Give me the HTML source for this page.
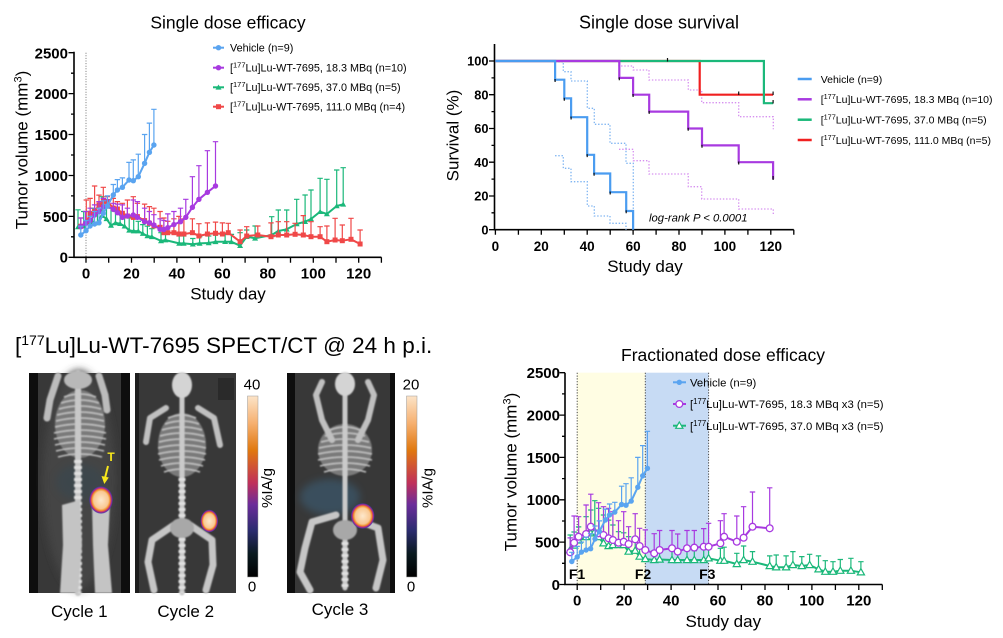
<!DOCTYPE html>
<html><head><meta charset="utf-8"><style>
html,body{margin:0;padding:0;background:#fff}
svg{display:block}
text{font-family:"Liberation Sans",Arial,sans-serif;fill:#000}
.b{font-weight:bold}
.ax{stroke:#000;stroke-width:1.6;fill:none}
.tk{stroke:#000;stroke-width:1.3;fill:none}
</style></head><body>
<svg width="1003" height="638" viewBox="0 0 1003 638" xmlns="http://www.w3.org/2000/svg">
<defs>
<marker id="mB" markerWidth="8" markerHeight="8" refX="4" refY="4" markerUnits="userSpaceOnUse" overflow="visible"><circle cx="4" cy="4" r="2.7" fill="#5aa4f0"/></marker>
<marker id="mP" markerWidth="8" markerHeight="8" refX="4" refY="4" markerUnits="userSpaceOnUse" overflow="visible"><circle cx="4" cy="4" r="2.7" fill="#a83ae0"/></marker>
<marker id="mG" markerWidth="8" markerHeight="8" refX="4" refY="4" markerUnits="userSpaceOnUse" overflow="visible"><path d="M4 1.2L7 6.3H1Z" fill="#1bb87a"/></marker>
<marker id="mR" markerWidth="8" markerHeight="8" refX="4" refY="4" markerUnits="userSpaceOnUse" overflow="visible"><rect x="1.5" y="1.5" width="5" height="5" fill="#f04848"/></marker>
<marker id="mPo" markerWidth="10" markerHeight="10" refX="5" refY="5" markerUnits="userSpaceOnUse" overflow="visible"><circle cx="5" cy="5" r="3.4" fill="#fff" stroke="#a83ae0" stroke-width="1.3"/></marker>
<marker id="mGo" markerWidth="10" markerHeight="10" refX="5" refY="5" markerUnits="userSpaceOnUse" overflow="visible"><path d="M5 1.3L8.6 7.6H1.4Z" fill="#fff" stroke="#1bb87a" stroke-width="1.2"/></marker>
<radialGradient id="tg" cx="50%" cy="50%" r="50%">
<stop offset="0" stop-color="#fde8cc"/><stop offset="0.62" stop-color="#f9c892"/><stop offset="0.76" stop-color="#f0902a"/><stop offset="0.85" stop-color="#c83070"/><stop offset="0.93" stop-color="#6030a8"/><stop offset="1" stop-color="#3040a0" stop-opacity="0"/>
</radialGradient>
<linearGradient id="cb" x1="0" y1="0" x2="0" y2="1">
<stop offset="0" stop-color="#fce4c8"/><stop offset="0.15" stop-color="#f6b070"/><stop offset="0.3" stop-color="#e0780f"/><stop offset="0.48" stop-color="#c0305a"/><stop offset="0.6" stop-color="#6b2c9a"/><stop offset="0.74" stop-color="#2c2c70"/><stop offset="0.87" stop-color="#0a1a20"/><stop offset="1" stop-color="#000"/>
</linearGradient>
<filter id="bl" x="-10%" y="-10%" width="120%" height="120%"><feGaussianBlur stdDeviation="0.7"/></filter>
<filter id="bl3" x="-50%" y="-50%" width="200%" height="200%"><feGaussianBlur stdDeviation="4"/></filter>
</defs>

<!-- ================= Chart A: Single dose efficacy ================= -->
<text x="228" y="28.3" font-size="17.5" text-anchor="middle">Single dose efficacy</text>
<line x1="86" y1="52.7" x2="86" y2="257.3" stroke="#777" stroke-width="1" stroke-dasharray="1 1.6"/>
<path class="ax" d="M74 51.7V257.3H381.4"/>
<path class="tk" d="M68.5 257.3H74M71 236.8H74M68.5 216.4H74M71 195.9H74M68.5 175.5H74M71 155H74M68.5 134.5H74M71 114.1H74M68.5 93.6H74M71 73.2H74M68.5 52.7H74"/>
<path class="tk" d="M86 257.3v5.5M108.7 257.3v5.5M131.5 257.3v5.5M154.2 257.3v5.5M176.9 257.3v5.5M199.6 257.3v5.5M222.4 257.3v5.5M245.1 257.3v5.5M267.8 257.3v5.5M290.5 257.3v5.5M313.3 257.3v5.5M336 257.3v5.5M358.7 257.3v5.5M381.4 257.3v5.5"/>
<g class="b" font-size="15" text-anchor="end">
<text x="68" y="262.7">0</text><text x="68" y="221.8">500</text><text x="68" y="180.9">1000</text><text x="68" y="139.9">1500</text><text x="68" y="99">2000</text><text x="68" y="58.3">2500</text>
</g>
<g class="b" font-size="15" text-anchor="middle">
<text x="86" y="278.3">0</text><text x="131.5" y="278.3">20</text><text x="176.9" y="278.3">40</text><text x="222.4" y="278.3">60</text><text x="267.8" y="278.3">80</text><text x="313.3" y="278.3">100</text><text x="358.7" y="278.3">120</text>
</g>
<text x="228" y="299.5" font-size="17" text-anchor="middle">Study day</text>
<text transform="translate(27.5,150) rotate(-90)" font-size="17" text-anchor="middle">Tumor volume (mm<tspan font-size="11" dy="-6">3</tspan><tspan dy="6">)</tspan></text>

<!-- green -->
<g stroke="#1bb87a" fill="none">
<path stroke-width="1.2" d="M78 227V209.8m-2.7 0h5.4M83.7 226.2V211.5m-2.7 0h5.4M88.3 222.9V211.5m-2.7 0h5.4M92.8 222.1V208.2m-2.7 0h5.4M97.4 222.9V211.5m-2.7 0h5.4M101.9 215.6V196.7m-2.7 0h5.4M106.5 218.8V204.9m-2.7 0h5.4M111 225.4V208.2m-2.7 0h5.4M115.5 222.9V211.5m-2.7 0h5.4M120.1 223.7V213.1m-2.7 0h5.4M124.6 226.2V216.4m-2.7 0h5.4M129.2 230.3V218m-2.7 0h5.4M133.7 231.1V218.8m-2.7 0h5.4M138.3 231.1V221.3m-2.7 0h5.4M142.8 233.6V224.6m-2.7 0h5.4M147.4 236V226.2m-2.7 0h5.4M151.9 236.8V228.7m-2.7 0h5.4M161 240.9V232.7m-2.7 0h5.4M165.5 240.1V232.7m-2.7 0h5.4M179.2 243.4V236m-2.7 0h5.4M183.7 243.4V236m-2.7 0h5.4M192.8 244.2V238.5m-2.7 0h5.4M199.6 243.4V236.8m-2.7 0h5.4M208.7 243V236m-2.7 0h5.4M215.5 241.8V235.2m-2.7 0h5.4M225.1 241.7V234.4m-2.7 0h5.4M231.4 241.8V234.4m-2.7 0h5.4M240.1 245.7V232.7m-2.7 0h5.4M246.7 236.7V230m-2.7 0h5.4M255.1 238.3V226m-2.7 0h5.4M271.7 235V216.7m-2.7 0h5.4M278.3 231V210m-2.7 0h5.4M286.7 229.3V210m-2.7 0h5.4M296.7 224V199.3m-2.7 0h5.4M305.1 221.7V195m-2.7 0h5.4M311 219V190m-2.7 0h5.4M320.1 211.7V178.3m-2.7 0h5.4M326.9 214V179.3m-2.7 0h5.4M336.7 206V170m-2.7 0h5.4M343.2 204.3V167.7m-2.7 0h5.4"/>
<polyline stroke-width="2" stroke-linejoin="round" marker-start="url(#mG)" marker-mid="url(#mG)" marker-end="url(#mG)" points="78,227 83.7,226.2 88.3,222.9 92.8,222.1 97.4,222.9 101.9,215.6 106.5,218.8 111,225.4 115.5,222.9 120.1,223.7 124.6,226.2 129.2,230.3 133.7,231.1 138.3,231.1 142.8,233.6 147.4,236 151.9,236.8 161,240.9 165.5,240.1 179.2,243.4 183.7,243.4 192.8,244.2 199.6,243.4 208.7,243 215.5,241.8 225.1,241.7 231.4,241.8 240.1,245.7 246.7,236.7 255.1,238.3 271.7,235 278.3,231 286.7,229.3 296.7,224 305.1,221.7 311,219 320.1,211.7 326.9,214 336.7,206 343.2,204.3"/>
</g>
<!-- red -->
<g stroke="#f04848" fill="none">
<path stroke-width="1.2" d="M80.8 226.2V218m-2.7 0h5.4M86.3 222.9V200m-2.7 0h5.4M90.1 213.3V198.4m-2.7 0h5.4M94.6 211.5V186m-2.7 0h5.4M99 204.8V195.1m-2.7 0h5.4M103.3 201.4V187.3m-2.7 0h5.4M107.4 201.4V196.7m-2.7 0h5.4M113.3 208.1V198.4m-2.7 0h5.4M117.4 209V201.6m-2.7 0h5.4M122.4 213.3V203.3m-2.7 0h5.4M127.4 216V200m-2.7 0h5.4M133.3 217.4V196.7m-2.7 0h5.4M137.4 216.6V203.3m-2.7 0h5.4M144.6 220.6V204.1m-2.7 0h5.4M149.4 223.3V206.6m-2.7 0h5.4M153.9 225.9V208.2m-2.7 0h5.4M160.1 227.3V211.5m-2.7 0h5.4M163.9 232.7V218m-2.7 0h5.4M167.8 232.7V221.3m-2.7 0h5.4M173.9 232.7V218.8m-2.7 0h5.4M178.9 234V216.4m-2.7 0h5.4M183.9 234V218.8m-2.7 0h5.4M192.4 232.7V218.8m-2.7 0h5.4M198.9 236V223.7m-2.7 0h5.4M207.4 234V222.9m-2.7 0h5.4M215.5 233.3V222.1m-2.7 0h5.4M222.4 234V222.9m-2.7 0h5.4M228.3 232.7V223.3m-2.7 0h5.4M240.1 241.7V230m-2.7 0h5.4M246.7 236V226.7m-2.7 0h5.4M257.8 235V226m-2.7 0h5.4M271 236.7V222.9m-2.7 0h5.4M278.3 235V221.7m-2.7 0h5.4M286.7 235V221.7m-2.7 0h5.4M295.1 234.3V223.3m-2.7 0h5.4M303.3 235V215.6m-2.7 0h5.4M311 236.7V221.7m-2.7 0h5.4M320.1 236.7V226.7m-2.7 0h5.4M326.9 241.7V226m-2.7 0h5.4M335.1 240V218.3m-2.7 0h5.4M342.3 240.7V225m-2.7 0h5.4M351 239.3V218.3m-2.7 0h5.4M360.1 244V230m-2.7 0h5.4"/>
<polyline stroke-width="2" stroke-linejoin="round" marker-start="url(#mR)" marker-mid="url(#mR)" marker-end="url(#mR)" points="80.8,226.2 86.3,222.9 90.1,213.3 94.6,211.5 99,204.8 103.3,201.4 107.4,201.4 113.3,208.1 117.4,209 122.4,213.3 127.4,216 133.3,217.4 137.4,216.6 144.6,220.6 149.4,223.3 153.9,225.9 160.1,227.3 163.9,232.7 167.8,232.7 173.9,232.7 178.9,234 183.9,234 192.4,232.7 198.9,236 207.4,234 215.5,233.3 222.4,234 228.3,232.7 240.1,241.7 246.7,236 257.8,235 271,236.7 278.3,235 286.7,235 295.1,234.3 303.3,235 311,236.7 320.1,236.7 326.9,241.7 335.1,240 342.3,240.7 351,239.3 360.1,244"/>
</g>
<!-- purple -->
<g stroke="#a83ae0" fill="none">
<path stroke-width="1.2" d="M80.8 226.7V218m-2.7 0h5.4M85.5 223.3V211.5m-2.7 0h5.4M90.1 220.6V208.2m-2.7 0h5.4M94.6 215V204.9m-2.7 0h5.4M99 211.7V201.6m-2.7 0h5.4M103.3 206.7V198.4m-2.7 0h5.4M107.4 206V200m-2.7 0h5.4M113.3 209.3V203.3m-2.7 0h5.4M117.4 212.7V204.1m-2.7 0h5.4M122.4 217.4V204.9m-2.7 0h5.4M127.4 216V208.2m-2.7 0h5.4M133.3 215V200m-2.7 0h5.4M137.4 217.4V201.6m-2.7 0h5.4M144.6 221.7V208.2m-2.7 0h5.4M149.4 222.7V211.5m-2.7 0h5.4M153.9 225V214.7m-2.7 0h5.4M160.1 229.3V218.8m-2.7 0h5.4M163.9 229.5V220.5m-2.7 0h5.4M167.8 227.7V213.9m-2.7 0h5.4M173.9 224.6V211.5m-2.7 0h5.4M180.5 221.7V208.2m-2.7 0h5.4M185.8 217.3V199.3m-2.7 0h5.4M192.4 207.3V176.7m-2.7 0h5.4M198.9 199.3V165.7m-2.7 0h5.4M207.4 192.3V150.7m-2.7 0h5.4M215.5 186V141.7m-2.7 0h5.4"/>
<polyline stroke-width="2" stroke-linejoin="round" marker-start="url(#mP)" marker-mid="url(#mP)" marker-end="url(#mP)" points="80.8,226.7 85.5,223.3 90.1,220.6 94.6,215 99,211.7 103.3,206.7 107.4,206 113.3,209.3 117.4,212.7 122.4,217.4 127.4,216 133.3,215 137.4,217.4 144.6,221.7 149.4,222.7 153.9,225 160.1,229.3 163.9,229.5 167.8,227.7 173.9,224.6 180.5,221.7 185.8,217.3 192.4,207.3 198.9,199.3 207.4,192.3 215.5,186"/>
</g>
<!-- blue -->
<g stroke="#5aa4f0" fill="none">
<path stroke-width="1.2" d="M80.8 235V226.2m-2.7 0h5.4M86 230.7V220.5m-2.7 0h5.4M90.1 226V216.4m-2.7 0h5.4M94.6 224V211.5m-2.7 0h5.4M99 222.7V208.2m-2.7 0h5.4M103.3 213.3V200.8m-2.7 0h5.4M107.4 206V195.9m-2.7 0h5.4M113.3 195V184.5m-2.7 0h5.4M117.4 190V179.6m-2.7 0h5.4M122.4 187.3V177.9m-2.7 0h5.4M129 180V162.4m-2.7 0h5.4M133.3 180.7V159.9m-2.7 0h5.4M138.3 176.7V154.2m-2.7 0h5.4M144.6 163.3V134.5m-2.7 0h5.4M149.4 152.3V123.1m-2.7 0h5.4M153.9 145V109.3m-2.7 0h5.4"/>
<polyline stroke-width="2" stroke-linejoin="round" marker-start="url(#mB)" marker-mid="url(#mB)" marker-end="url(#mB)" points="80.8,235 86,230.7 90.1,226 94.6,224 99,222.7 103.3,213.3 107.4,206 113.3,195 117.4,190 122.4,187.3 129,180 133.3,180.7 138.3,176.7 144.6,163.3 149.4,152.3 153.9,145"/>
</g>
<!-- legend A -->
<g stroke-width="2" fill="none">
<path d="M213 47.7H224" stroke="#5aa4f0"/><circle cx="218.5" cy="47.7" r="2.7" fill="#5aa4f0" stroke="none"/>
<path d="M213 67.7H224" stroke="#a83ae0"/><circle cx="218.5" cy="67.7" r="2.7" fill="#a83ae0" stroke="none"/>
<path d="M213 87.3H224" stroke="#1bb87a"/><path d="M218.5 84.5L221.5 89.6H215.5Z" fill="#1bb87a" stroke="none"/>
<path d="M213 106.7H224" stroke="#f04848"/><rect x="216" y="104.2" width="5" height="5" fill="#f04848" stroke="none"/>
</g>
<g font-size="10.8">
<text x="230" y="51.5">Vehicle (n=9)</text>
<text x="230" y="71.5">[<tspan font-size="7.5" dy="-4">177</tspan><tspan dy="4">Lu]Lu-WT-7695, 18.3 MBq (n=10)</tspan></text>
<text x="230" y="91.1">[<tspan font-size="7.5" dy="-4">177</tspan><tspan dy="4">Lu]Lu-WT-7695, 37.0 MBq (n=5)</tspan></text>
<text x="230" y="110.5">[<tspan font-size="7.5" dy="-4">177</tspan><tspan dy="4">Lu]Lu-WT-7695, 111.0 MBq (n=4)</tspan></text>
</g>

<!-- ================= Chart B: Single dose survival ================= -->
<text x="659" y="28.3" font-size="18" text-anchor="middle">Single dose survival</text>
<path class="ax" d="M494.5 44V229.7H793.8"/>
<path class="tk" d="M489 229.7h5.5M491.5 212.8h3M489 196h5.5M491.5 179.1h3M489 162.2h5.5M491.5 145.4h3M489 128.5h5.5M491.5 111.6h3M489 94.7h5.5M491.5 77.9h3M489 61h5.5"/>
<path class="tk" d="M495.4 229.7v5M518.4 229.7v5M541.3 229.7v5M564.3 229.7v5M587.2 229.7v5M610.2 229.7v5M633.1 229.7v5M656.1 229.7v5M679 229.7v5M702 229.7v5M724.9 229.7v5M747.9 229.7v5M770.8 229.7v5M793.8 229.7v5"/>
<g class="b" font-size="12.8" text-anchor="end">
<text x="488.5" y="234.4">0</text><text x="488.5" y="200.7">20</text><text x="488.5" y="166.9">40</text><text x="488.5" y="133.2">60</text><text x="488.5" y="99.4">80</text><text x="488.5" y="65.7">100</text>
</g>
<g class="b" font-size="13.5" text-anchor="middle">
<text x="495.4" y="251">0</text><text x="541.3" y="251">20</text><text x="587.2" y="251">40</text><text x="633.1" y="251">60</text><text x="679" y="251">80</text><text x="724.9" y="251">100</text><text x="770.8" y="251">120</text>
</g>
<text x="645" y="272.2" font-size="17" text-anchor="middle">Study day</text>
<text transform="translate(458.5,135.5) rotate(-90)" font-size="17" text-anchor="middle">Survival (%)</text>
<!-- CI dotted -->
<g fill="none" stroke-width="1.3" stroke-dasharray="1.4 1.8">
<path stroke="#7fb5f2" d="M555.1 61.7H563.3V71.7H571V81H587.3V108.3H594.3V124.3H610V143.3H626V163.3H633.3V229.7"/>
<path stroke="#7fb5f2" d="M555.1 155.7H563.3V168.3H571V181.7H587.3V206H594.3V216H610V223.3H626V229.7"/>
<path stroke="#d690f0" d="M619 61.7V66H633.3V70H649V80H688.3V90H701.7V102.7H738.7V116.7H773.3V129.3"/>
<path stroke="#d690f0" d="M619 149.3H633.3V160.7H649V174H688.3V186.7H701.7V199H738.7V209H773.3V215"/>
</g>
<g fill="none" stroke-width="2.2">
<path stroke="#f02020" d="M495.4 61H699.7V94.7H773.1"/>
<path stroke="#1bb87a" d="M495.4 61H763.9V103.2H773.1"/>
<path stroke="#a83ae0" d="M495.4 61H619.3V77.9H633.1V94.7H649.2V111.6H688.2V128.5H702V145.4H738.7V162.2H773.1V179.1"/>
<path stroke="#4a9cf0" d="M495.4 61H555.1V79.7H564.3V98.4H571.1V117.2H587.2V154.8H594.1V173.5H610.2V192.2H626.2V211H633.1V229.7"/>
</g>
<path stroke="#111" stroke-width="1.2" fill="none" d="M555.1 79v3M564.3 97.7v3M571.1 116.5v3M587.2 154.1v3M594.1 172.8v3M610.2 191.5v3M626.2 210.3v3M619.3 77.2v3M633.1 94v3M649.2 110.9v3M688.2 127.8v3M702 144.7v3M738.7 161.5v3M773.1 176v4M667.5 58v3.5M738.7 91.5v3.5M773.1 91.5v3.5M773.1 100v3.5"/>
<text x="649" y="221.5" font-size="11.3" font-style="italic">log-rank P &lt; 0.0001</text>
<g stroke-width="2.5">
<line x1="797.7" y1="79" x2="811.7" y2="79" stroke="#4a9cf0"/>
<line x1="797.7" y1="99.3" x2="811.7" y2="99.3" stroke="#a83ae0"/>
<line x1="797.7" y1="119.7" x2="811.7" y2="119.7" stroke="#1bb87a"/>
<line x1="797.7" y1="140" x2="811.7" y2="140" stroke="#f02020"/>
</g>
<g font-size="10.5">
<text x="820.7" y="82.8">Vehicle (n=9)</text>
<text x="820.7" y="103.1">[<tspan font-size="7.3" dy="-4">177</tspan><tspan dy="4">Lu]Lu-WT-7695, 18.3 MBq (n=10)</tspan></text>
<text x="820.7" y="123.5">[<tspan font-size="7.3" dy="-4">177</tspan><tspan dy="4">Lu]Lu-WT-7695, 37.0 MBq (n=5)</tspan></text>
<text x="820.7" y="143.8">[<tspan font-size="7.3" dy="-4">177</tspan><tspan dy="4">Lu]Lu-WT-7695, 111.0 MBq (n=5)</tspan></text>
</g>

<!-- ================= Chart C: Fractionated ================= -->
<text x="723" y="360.8" font-size="17.5" text-anchor="middle">Fractionated dose efficacy</text>
<rect x="577.2" y="372.7" width="68.1" height="211.8" fill="#fffde3"/>
<rect x="645.3" y="372.7" width="63.3" height="211.8" fill="#c7dbf4"/>
<g stroke="#444" stroke-width="1" stroke-dasharray="1.2 1.6">
<line x1="577.2" y1="372.7" x2="577.2" y2="584.5"/><line x1="645.3" y1="372.7" x2="645.3" y2="584.5"/><line x1="708.6" y1="372.7" x2="708.6" y2="584.5"/>
</g>
<g class="b" font-size="14" text-anchor="middle">
<text x="577" y="579">F1</text><text x="643" y="579">F2</text><text x="707.3" y="579">F3</text>
</g>
<!-- green open -->
<g stroke="#1bb87a" fill="none">
<path stroke-width="1.2" d="M570.2 550V535m-2.7 0h5.4M574.1 545.5V532m-2.7 0h5.4M578.6 540.4V526.9m-2.7 0h5.4M586.1 537.1V516.7m-2.7 0h5.4M590.8 533.3V510m-2.7 0h5.4M594.8 531.6V500.7m-2.7 0h5.4M598.6 537.1V508.3m-2.7 0h5.4M603.5 543.3V515m-2.7 0h5.4M608.6 546V520.1m-2.7 0h5.4M612.9 545V525m-2.7 0h5.4M618.5 545V531.7m-2.7 0h5.4M623.7 545V532.8m-2.7 0h5.4M628.6 551.6V536.7m-2.7 0h5.4M635.2 550.7V539.3m-2.7 0h5.4M639.6 556.6V546.7m-2.7 0h5.4M645.3 559V548.1m-2.7 0h5.4M654.2 560V550.6m-2.7 0h5.4M659.6 559.5V550.6m-2.7 0h5.4M672 560V550.6m-2.7 0h5.4M677.7 560V550.6m-2.7 0h5.4M687 560V550.6m-2.7 0h5.4M694.3 560V550.6m-2.7 0h5.4M703.7 560V548.9m-2.7 0h5.4M708.6 558.3V545.5m-2.7 0h5.4M720.4 560.7V548.3m-2.7 0h5.4M724.1 560.7V547.2m-2.7 0h5.4M736.8 564V553.3m-2.7 0h5.4M743.6 560V546m-2.7 0h5.4M752.5 561.7V551.6m-2.7 0h5.4M769.7 566V555.9m-2.7 0h5.4M776.2 567.3V555m-2.7 0h5.4M786.1 567.3V555.9m-2.7 0h5.4M792.9 565V551.6m-2.7 0h5.4M801.8 566V556.6m-2.7 0h5.4M809.6 565V554.3m-2.7 0h5.4M818.5 569.3V555.9m-2.7 0h5.4M825.3 571.7V560.7m-2.7 0h5.4M833 571.7V561.7m-2.7 0h5.4M840.3 570.7V559.5m-2.7 0h5.4M850.9 570.7V558.3m-2.7 0h5.4M860.9 572.3V561.7m-2.7 0h5.4"/>
<polyline stroke-width="2" stroke-linejoin="round" marker-start="url(#mGo)" marker-mid="url(#mGo)" marker-end="url(#mGo)" points="570.2,550 574.1,545.5 578.6,540.4 586.1,537.1 590.8,533.3 594.8,531.6 598.6,537.1 603.5,543.3 608.6,546 612.9,545 618.5,545 623.7,545 628.6,551.6 635.2,550.7 639.6,556.6 645.3,559 654.2,560 659.6,559.5 672,560 677.7,560 687,560 694.3,560 703.7,560 708.6,558.3 720.4,560.7 724.1,560.7 736.8,564 743.6,560 752.5,561.7 769.7,566 776.2,567.3 786.1,567.3 792.9,565 801.8,566 809.6,565 818.5,569.3 825.3,571.7 833,571.7 840.3,570.7 850.9,570.7 860.9,572.3"/>
</g>
<!-- purple open -->
<g stroke="#a83ae0" fill="none">
<path stroke-width="1.2" d="M570.2 552.3V537.9m-2.7 0h5.4M574.1 542.7V516m-2.7 0h5.4M578.6 536.7V516.7m-2.7 0h5.4M586.1 534V505m-2.7 0h5.4M590.8 526.7V494.2m-2.7 0h5.4M598.6 533.3V502.7m-2.7 0h5.4M603.5 535V506.7m-2.7 0h5.4M608.6 538.3V508.3m-2.7 0h5.4M612.9 540V511.7m-2.7 0h5.4M618.5 542.7V520.7m-2.7 0h5.4M623.7 541.7V511.7m-2.7 0h5.4M628.6 544V526.7m-2.7 0h5.4M635.2 539.3V513.7m-2.7 0h5.4M639.6 546V528.3m-2.7 0h5.4M645.3 550V529.9m-2.7 0h5.4M654.2 553.3V533.7m-2.7 0h5.4M659.6 550V530.5m-2.7 0h5.4M672 548.3V530.5m-2.7 0h5.4M677.7 551.6V534m-2.7 0h5.4M687 548.3V530.5m-2.7 0h5.4M694.3 547.6V530.5m-2.7 0h5.4M703.7 546.7V528.6m-2.7 0h5.4M708.6 546.7V523.3m-2.7 0h5.4M720.4 543.3V520.7m-2.7 0h5.4M724.1 536.7V513.7m-2.7 0h5.4M736.8 541.7V516m-2.7 0h5.4M743.6 537.7V506.7m-2.7 0h5.4M752.5 526.7V492m-2.7 0h5.4M769.7 528.3V487.8m-2.7 0h5.4"/>
<polyline stroke-width="2" stroke-linejoin="round" marker-start="url(#mPo)" marker-mid="url(#mPo)" marker-end="url(#mPo)" points="570.2,552.3 574.1,542.7 578.6,536.7 586.1,534 590.8,526.7 598.6,533.3 603.5,535 608.6,538.3 612.9,540 618.5,542.7 623.7,541.7 628.6,544 635.2,539.3 639.6,546 645.3,550 654.2,553.3 659.6,550 672,548.3 677.7,551.6 687,548.3 694.3,547.6 703.7,546.7 708.6,546.7 720.4,543.3 724.1,536.7 736.8,541.7 743.6,537.7 752.5,526.7 769.7,528.3"/>
</g>
<!-- blue -->
<g stroke="#5aa4f0" fill="none">
<path stroke-width="1.2" d="M571.8 561.5V552.3m-2.7 0h5.4M577.2 557V546.4m-2.7 0h5.4M581.4 552.1V542.1m-2.7 0h5.4M586.1 550V537.1m-2.7 0h5.4M590.6 548.7V533.7m-2.7 0h5.4M595 539V526m-2.7 0h5.4M599.3 531.4V520.9m-2.7 0h5.4M605.4 520V509.1m-2.7 0h5.4M609.6 514.9V504m-2.7 0h5.4M614.8 512.1V502.3m-2.7 0h5.4M621.6 504.5V486.2m-2.7 0h5.4M626 505.2V483.7m-2.7 0h5.4M631.2 501.1V477.8m-2.7 0h5.4M637.8 487.2V457.4m-2.7 0h5.4M642.7 475.8V445.6m-2.7 0h5.4M647.4 468.3V431.3m-2.7 0h5.4"/>
<polyline stroke-width="2" stroke-linejoin="round" marker-start="url(#mB)" marker-mid="url(#mB)" marker-end="url(#mB)" points="571.8,561.5 577.2,557 581.4,552.1 586.1,550 590.6,548.7 595,539 599.3,531.4 605.4,520 609.6,514.9 614.8,512.1 621.6,504.5 626,505.2 631.2,501.1 637.8,487.2 642.7,475.8 647.4,468.3"/>
</g>
<path class="ax" d="M565 372.7V584.5H882.3"/>
<path class="tk" d="M559.5 584.5h5.5M562 563.3h3M559.5 542.1h5.5M562 521h3M559.5 499.8h5.5M562 478.6h3M559.5 457.4h5.5M562 436.3h3M559.5 415.1h5.5M562 393.9h3M559.5 372.7h5.5"/>
<path class="tk" d="M577.2 584.5v5.5M600.7 584.5v5.5M624.1 584.5v5.5M647.6 584.5v5.5M671.1 584.5v5.5M694.6 584.5v5.5M718 584.5v5.5M741.5 584.5v5.5M765 584.5v5.5M788.4 584.5v5.5M811.9 584.5v5.5M835.4 584.5v5.5M858.8 584.5v5.5M882.3 584.5v5.5"/>
<g class="b" font-size="15" text-anchor="end">
<text x="560" y="589.9">0</text><text x="560" y="547.5">500</text><text x="560" y="505.2">1000</text><text x="560" y="462.8">1500</text><text x="560" y="420.5">2000</text><text x="560" y="378.1">2500</text>
</g>
<g class="b" font-size="15" text-anchor="middle">
<text x="577.2" y="605.7">0</text><text x="624.1" y="605.7">20</text><text x="671.1" y="605.7">40</text><text x="718" y="605.7">60</text><text x="765" y="605.7">80</text><text x="811.9" y="605.7">100</text><text x="858.8" y="605.7">120</text>
</g>
<text x="723.3" y="627" font-size="17" text-anchor="middle">Study day</text>
<text transform="translate(516.5,472) rotate(-90)" font-size="17" text-anchor="middle">Tumor volume (mm<tspan font-size="11" dy="-6">3</tspan><tspan dy="6">)</tspan></text>
<!-- legend C -->
<g stroke-width="2" fill="none">
<path d="M673 382.3H686" stroke="#5aa4f0"/><circle cx="679.3" cy="382.3" r="2.7" fill="#5aa4f0" stroke="none"/>
<path d="M673 404H686" stroke="#a83ae0"/><circle cx="679.3" cy="404" r="3.4" fill="#fff" stroke="#a83ae0" stroke-width="1.3"/>
<path d="M673 425.7H686" stroke="#1bb87a"/><path d="M679.3 422L682.9 428.3H675.7Z" fill="#fff" stroke="#1bb87a" stroke-width="1.2"/>
</g>
<g font-size="11.3">
<text x="690" y="386.5">Vehicle (n=9)</text>
<text x="690" y="408.2">[<tspan font-size="7.8" dy="-4">177</tspan><tspan dy="4">Lu]Lu-WT-7695, 18.3 MBq x3 (n=5)</tspan></text>
<text x="690" y="430">[<tspan font-size="7.8" dy="-4">177</tspan><tspan dy="4">Lu]Lu-WT-7695, 37.0 MBq x3 (n=5)</tspan></text>
</g>

<!-- ================= SPECT/CT images ================= -->
<text x="15" y="352.8" font-size="22.5">[<tspan font-size="14" dy="-8">177</tspan><tspan dy="8">Lu]Lu-WT-7695 SPECT/CT @ 24 h p.i.</tspan></text>

<!-- Panel 1 -->
<rect x="29" y="373" width="101" height="220" fill="#0e0e0e"/>
<rect x="38" y="373" width="83" height="220" fill="#383838"/>
<ellipse cx="79" cy="480" rx="36" ry="110" fill="#444" filter="url(#bl3)"/>
<ellipse cx="80" cy="482" rx="24" ry="18" fill="#2e4a58" opacity="0.35" filter="url(#bl3)"/>
<g filter="url(#bl)">
<ellipse cx="80" cy="424" rx="25" ry="34" fill="#7a7a7a"/>
<path fill="none" stroke="#c4c4c4" stroke-width="1.6" d="M64 397Q80 391 96 397M61 403Q80 397 99 403M59 409Q80 403 101 409M57 415Q80 409 103 415M56 421Q80 415 104 421M55 427Q80 421 105 427M54 433Q80 427 106 433M54 439Q80 433 106 439M55 445Q80 439 105 445M56 451Q80 445 104 451M58 457Q80 451 102 457"/>
<path fill="none" stroke="#c8c8c8" stroke-width="6" stroke-linecap="round" d="M78 373V593"/>
<path fill="none" stroke="#e0e0e0" stroke-width="8" stroke-dasharray="3 3" d="M78 460V593"/>
<path fill="none" stroke="#bcbcbc" stroke-width="7" stroke-linecap="round" d="M58 376L50 400L47 418M99 376L105 395L107 410"/>
<path fill="#c4c4c4" d="M62 505L80 500L82 545L78 593L60 593L63 545Z"/>
<path fill="#c4c4c4" d="M92 505L110 503L108 545L112 593L95 593L93 545Z"/>
<ellipse cx="78" cy="380" rx="14" ry="9" fill="#b8b8b8"/>
</g>
<ellipse cx="101" cy="500" rx="12" ry="14" fill="url(#tg)"/>
<text x="111" y="461" font-size="12" class="b" text-anchor="middle" style="fill:#f8e81c">T</text>
<path d="M108 466L105 478" stroke="#f8e81c" stroke-width="2"/>
<path d="M101.5 476L104.3 484L108.8 477.5Z" fill="#f8e81c"/>

<!-- Panel 2 -->
<rect x="135" y="373" width="101" height="220" fill="#383838"/>
<rect x="135" y="373" width="4" height="220" fill="#1e1e1e"/>
<rect x="218" y="378" width="16" height="22" fill="#2a2a2a"/>
<g filter="url(#bl)">
<ellipse cx="182" cy="445" rx="24" ry="32" fill="#7a7a7a"/>
<path fill="none" stroke="#c4c4c4" stroke-width="1.6" d="M168 418Q182 412 196 418M165 424Q182 418 199 424M162 430Q182 424 202 430M160 436Q182 430 204 436M159 442Q182 436 205 442M158 448Q182 442 206 448M158 454Q182 448 206 454M159 460Q182 454 205 460M161 466Q182 460 203 466M164 472Q182 466 200 472"/>
<path fill="none" stroke="#cacaca" stroke-width="5" stroke-linecap="round" d="M182 380V593"/>
<path fill="none" stroke="#e0e0e0" stroke-width="7" stroke-dasharray="3 3" d="M182 478V593"/>
<ellipse cx="182" cy="385" rx="10" ry="13" fill="#d4d4d4"/>
<path fill="none" stroke="#c0c0c0" stroke-width="6" stroke-linecap="round" stroke-linejoin="round" d="M166 408L150 418L146 442M198 408L214 418L220 445"/>
<path fill="none" stroke="#c6c6c6" stroke-width="7" stroke-linecap="round" stroke-linejoin="round" d="M174 525L152 540L148 562L154 590M190 525L212 540L213 565L206 590"/>
<ellipse cx="182" cy="528" rx="12" ry="10" fill="#a8a8a8"/>
</g>
<ellipse cx="209.3" cy="521" rx="9" ry="11.5" fill="url(#tg)"/>

<!-- Panel 3 -->
<rect x="287" y="373" width="108" height="220" fill="#0e0e0e"/>
<rect x="295" y="373" width="95" height="220" fill="#383838"/>
<ellipse cx="330" cy="497" rx="30" ry="18" fill="#3d6a8a" opacity="0.45" filter="url(#bl3)"/>
<g filter="url(#bl)">
<ellipse cx="345" cy="450" rx="27" ry="26" fill="#7a7a7a"/>
<path fill="none" stroke="#c4c4c4" stroke-width="1.6" d="M330 430Q345 424 360 430M325 436Q345 430 365 436M321 442Q345 436 369 442M319 448Q345 442 371 448M318 454Q345 448 372 454M318 460Q345 454 372 460M320 466Q345 460 370 466M324 472Q345 466 366 472"/>
<path fill="none" stroke="#cacaca" stroke-width="5" stroke-linecap="round" d="M345 380V588"/>
<path fill="none" stroke="#e0e0e0" stroke-width="7" stroke-dasharray="3 3" d="M345 530V590"/>
<ellipse cx="345" cy="384" rx="10" ry="12" fill="#d4d4d4"/>
<path fill="none" stroke="#c0c0c0" stroke-width="6" stroke-linecap="round" stroke-linejoin="round" d="M332 440L322 420L316 395L322 382M358 440L368 420L374 395L368 382"/>
<path fill="none" stroke="#c6c6c6" stroke-width="7" stroke-linecap="round" stroke-linejoin="round" d="M336 515L312 522L305 548L300 572L310 590M356 520L378 528L383 560L376 588"/>
<ellipse cx="345" cy="530" rx="12" ry="10" fill="#a8a8a8"/>
</g>
<ellipse cx="362.7" cy="516" rx="12" ry="13" fill="url(#tg)"/>

<!-- Colorbars -->
<rect x="247.5" y="396" width="10.5" height="181" fill="url(#cb)" stroke="#999" stroke-width="0.5"/>
<rect x="406.5" y="396" width="10.5" height="181" fill="url(#cb)" stroke="#999" stroke-width="0.5"/>
<g font-size="15" text-anchor="middle">
<text x="252" y="389.3">40</text><text x="252" y="591.7">0</text>
<text x="411" y="389.3">20</text><text x="411" y="591.7">0</text>
</g>
<text transform="translate(272,488) rotate(-90)" font-size="15" text-anchor="middle">%IA/g</text>
<text transform="translate(432.5,488) rotate(-90)" font-size="15" text-anchor="middle">%IA/g</text>
<g font-size="17" text-anchor="middle">
<text x="79.3" y="617.2">Cycle 1</text><text x="185.7" y="617.2">Cycle 2</text><text x="340" y="614.9">Cycle 3</text>
</g>
</svg>
</body></html>
